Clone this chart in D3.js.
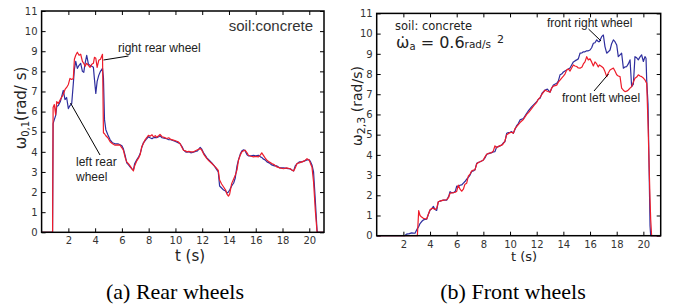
<!DOCTYPE html>
<html><head><meta charset="utf-8">
<script src="https://cdn.jsdelivr.net/npm/d3@7"></script>
<style>body{margin:0;background:#fff}svg{display:block}</style>
</head><body>
<script>
// ---- data ----
const xTicks = [2,4,6,8,10,12,14,16,18,20];
const yTicks = [0,1,2,3,4,5,6,7,8,9,10,11];

const rearTime = [0,0.82,0.86,0.95,1.05,1.13,1.25,1.4,1.62,1.75,1.87,2.0,2.12,2.25,2.37,2.45,2.55,2.67,2.8,2.92,3.05,3.15,3.25,3.37,3.5,3.62,3.75,3.87,3.95,4.05,4.15,4.27,4.4,4.55,4.62,4.7,4.8,4.95,5.12,5.3,5.49,5.7,5.86,6.0,6.11,6.25,6.36,6.5,6.61,6.75,6.86,6.95,7.11,7.25,7.36,7.48,7.6,7.73,7.85,7.98,8.1,8.25,8.35,8.5,8.6,8.75,8.85,9.0,9.15,9.35,9.5,9.65,9.85,10.0,10.2,10.35,10.5,10.6,10.75,10.85,11.0,11.15,11.35,11.5,11.65,11.85,11.95,12.1,12.2,12.35,12.5,12.72,12.9,13.05,13.2,13.3,13.45,13.6,13.75,13.85,13.96,14.05,14.2,14.35,14.47,14.6,14.71,14.85,14.97,15.1,15.2,15.35,15.45,15.65,15.83,16.0,16.2,16.35,16.45,16.55,16.7,16.84,17.0,17.2,17.4,17.58,17.8,18.08,18.3,18.58,18.7,18.83,18.95,19.08,19.25,19.45,19.65,19.83,20.0,20.1,20.2,20.32,20.45,20.58,20.62,21.1];
const rightRearSpeed = [0,0,6.2,6.35,5.85,6.5,6.4,6.6,6.85,7.1,7.2,7.35,7.65,7.6,7.65,8.6,8.8,8.95,8.8,8.85,8.5,8.4,8.25,8.4,8.3,8.2,8.35,8.4,8.7,8.65,8.2,8.55,8.6,8.85,4.95,4.9,4.8,4.7,4.5,4.4,4.33,4.35,4.33,4.2,4.08,3.7,3.5,3.4,3.3,3.15,3.05,3.3,3.55,3.7,3.85,4.25,4.4,4.6,4.7,4.82,4.78,4.85,4.75,4.8,4.72,4.8,4.87,4.75,4.72,4.66,4.7,4.62,4.58,4.55,4.5,4.4,4.2,4.08,4.05,4.0,4.02,4.0,4.0,4.05,4.1,4.16,4.1,3.9,3.8,3.66,3.55,3.42,3.3,3.2,3.08,2.6,2.4,2.25,2.1,1.9,1.8,1.9,2.42,2.65,2.83,3.1,3.58,3.85,4.0,4.05,4.08,3.95,3.83,3.78,3.75,3.77,3.75,3.85,3.95,3.85,3.7,3.58,3.5,3.42,3.35,3.25,3.2,3.16,3.2,3.16,3.1,3.05,3.2,3.42,3.45,3.5,3.55,3.66,3.58,3.4,3.25,2.5,1.1,0.02,0,0];
const leftRearSpeed = [0,0,5.4,5.6,5.8,6.25,6.3,6.5,7.05,6.6,6.7,6.15,6.3,6.4,7.4,8.1,8.5,8.15,8.3,8.4,8.0,7.95,8.4,8.8,8.35,8.3,8.25,8.2,7.6,6.9,7.5,7.8,8.0,8.15,7.7,5.6,5.1,4.85,4.6,4.45,4.4,4.4,4.35,4.3,4.15,3.8,3.45,3.35,3.25,3.15,3.1,3.4,3.6,3.75,3.9,4.2,4.45,4.55,4.65,4.75,4.7,4.65,4.7,4.72,4.7,4.75,4.8,4.7,4.68,4.65,4.6,4.6,4.55,4.52,4.45,4.4,4.25,4.1,4.0,3.98,4.0,3.95,3.98,4.02,4.05,4.22,4.15,3.95,3.85,3.7,3.6,3.45,3.3,3.15,3.0,2.3,2.2,2.1,2.05,1.95,2.0,2.1,2.3,2.45,2.7,3.3,3.6,3.9,4.05,4.1,4.05,3.85,3.8,3.8,3.82,3.8,3.83,3.75,3.72,3.65,3.6,3.5,3.45,3.35,3.3,3.3,3.2,3.2,3.18,3.15,3.1,3.05,3.3,3.4,3.5,3.5,3.55,3.6,3.6,3.5,3.35,3.0,1.6,0.1,0,0];

const frontTime = [0,2.1,2.25,2.45,2.62,2.87,3.05,3.15,3.25,3.37,3.5,3.62,3.75,3.87,4.0,4.12,4.25,4.37,4.5,4.62,4.8,5.0,5.25,5.4,5.5,5.62,5.75,5.9,6.0,6.12,6.25,6.37,6.5,6.62,6.75,6.87,7.0,7.12,7.25,7.37,7.5,7.62,7.75,7.87,8.0,8.12,8.25,8.4,8.62,8.75,8.87,9.0,9.12,9.37,9.5,9.62,9.75,9.87,10.0,10.12,10.25,10.37,10.5,10.62,10.75,11.0,11.25,11.4,11.63,11.8,12.0,12.12,12.25,12.4,12.63,12.8,13.0,13.12,13.25,13.5,13.62,13.75,13.87,14.0,14.12,14.25,14.37,14.5,14.62,14.75,14.87,15.0,15.12,15.25,15.4,15.5,15.62,15.75,15.87,16.0,16.12,16.25,16.37,16.5,16.62,16.7,16.87,17.0,17.12,17.25,17.37,17.5,17.62,17.75,17.87,18.0,18.12,18.25,18.37,18.5,18.62,18.75,18.87,19.0,19.12,19.25,19.37,19.5,19.62,19.75,19.87,20.0,20.12,20.2,20.25,20.35,20.5,20.55,20.62,21.3];
const frontLeftSpeed = [0,0,0,0,0,0,0,1.24,1.0,0.92,0.86,0.84,0.83,1.05,1.27,1.35,1.35,1.3,1.36,1.68,1.72,1.76,1.78,1.9,2.1,2.12,2.13,2.15,2.2,2.5,2.3,2.2,2.3,2.55,2.6,2.95,3.05,3.2,3.25,3.26,3.55,3.62,3.66,3.7,3.75,3.9,4.03,4.08,4.11,4.2,4.45,4.35,4.42,4.48,4.55,4.7,5.0,5.05,5.1,5.12,5.07,5.3,5.4,5.5,5.6,5.75,6.0,6.1,6.3,6.45,6.6,6.75,6.85,7.0,7.2,7.15,7.1,7.3,7.4,7.45,7.6,7.7,7.8,7.9,8.0,8.2,8.25,8.15,8.3,8.45,8.4,8.37,8.3,8.29,8.35,8.5,8.6,8.86,8.7,8.75,8.6,8.4,8.6,8.5,8.35,8.45,8.37,8.3,8.12,7.87,8.05,8.2,8.25,8.29,8.15,7.96,7.9,7.87,7.3,7.2,7.13,7.15,7.21,7.3,7.38,7.6,7.79,7.85,7.96,7.9,7.87,7.8,7.71,7.6,7.55,5.5,1.8,0.8,0,0];
const frontRightSpeed = [0,0,0.08,0.1,0.14,0.12,0.35,0.45,0.6,0.7,0.78,0.8,0.82,1.05,1.27,1.32,1.45,1.3,1.25,1.68,1.72,1.76,1.76,1.95,2.18,2.13,2.13,2.2,2.45,2.43,2.5,2.51,2.6,2.68,2.8,2.89,3.0,3.18,3.2,3.26,3.58,3.62,3.66,3.7,3.75,3.85,4.03,4.06,4.11,4.15,4.16,4.4,4.4,4.48,4.6,4.65,5.07,5.1,5.12,5.15,5.07,5.25,5.45,5.55,5.73,5.8,6.06,6.2,6.39,6.5,6.63,6.75,6.8,7.05,7.21,7.25,7.1,7.3,7.46,7.54,7.65,7.96,8.0,8.1,8.15,8.2,8.25,8.3,8.45,8.6,8.65,8.7,8.75,9.03,9.05,9.1,9.1,9.15,9.15,9.19,9.3,9.52,9.55,9.69,9.6,9.6,9.85,9.93,9.36,9.03,9.1,9.19,9.5,9.69,9.6,9.44,8.86,8.95,9.03,8.29,8.35,8.37,8.5,8.7,7.38,7.5,8.86,8.8,8.7,8.85,8.95,8.62,8.86,8.78,7.7,6.5,0.5,0,0,0];

// ---- layout ----
const W = 678, H = 305;
const RED = "#ee1c2a", BLUE = "#2e2e9e";
const svg = d3.select("body").append("svg").attr("width", W).attr("height", H);

function panel(cfg) {
  const x = d3.scaleLinear().domain([0, cfg.xmax]).range([cfg.left, cfg.right]);
  const y = d3.scaleLinear().domain([0, 11]).range([cfg.bottom, cfg.top]);
  const g = svg.append("g");

  const styleAxis = (sel, showLabels) => {
    sel.select(".domain").remove();
    sel.selectAll(".tick line").attr("stroke", "#000").attr("stroke-width", 1);
    sel.selectAll(".tick text").attr("fill", "#333").style("font-family", "DejaVu Sans")
      .style("font-size", "10px");
    if (!showLabels) sel.selectAll(".tick text").remove();
  };
  g.append("g").attr("transform", `translate(0,${cfg.bottom})`)
    .call(d3.axisBottom(x).tickValues(xTicks).tickSizeInner(-4).tickSizeOuter(0).tickPadding(5))
    .call(s => styleAxis(s, true));
  g.append("g").attr("transform", `translate(0,${cfg.top})`)
    .call(d3.axisTop(x).tickValues(xTicks).tickSizeInner(-4).tickSizeOuter(0))
    .call(s => styleAxis(s, false));
  g.append("g").attr("transform", `translate(${cfg.left},0)`)
    .call(d3.axisLeft(y).tickValues(yTicks).tickSizeInner(-4).tickSizeOuter(0).tickPadding(4))
    .call(s => styleAxis(s, true));
  g.append("g").attr("transform", `translate(${cfg.right},0)`)
    .call(d3.axisRight(y).tickValues(yTicks).tickSizeInner(-4).tickSizeOuter(0))
    .call(s => styleAxis(s, false));

  const line = d3.line().x(d => x(d[0])).y(d => y(d[1]));
  const clipId = "clip" + cfg.id;
  g.append("clipPath").attr("id", clipId).append("rect")
    .attr("x", cfg.left).attr("y", cfg.top - 2).attr("width", cfg.right - cfg.left).attr("height", cfg.bottom - cfg.top + 4);
  cfg.series.forEach(s => {
    g.append("path").attr("clip-path", `url(#${clipId})`)
      .datum(cfg.time.map((t, i) => [t, s.values[i]]))
      .attr("fill", "none").attr("stroke", s.color).attr("stroke-width", 1.2)
      .attr("stroke-linejoin", "round").attr("d", line);
  });

  g.append("rect").attr("x", cfg.left).attr("y", cfg.top)
    .attr("width", cfg.right - cfg.left).attr("height", cfg.bottom - cfg.top)
    .attr("fill", "none").attr("stroke", "#000").attr("stroke-width", 1.5);
  return g;
}

panel({id: "a", left: 41.6, right: 324, top: 11, bottom: 232.3, xmax: 21.1, time: rearTime,
  series: [{values: leftRearSpeed, color: BLUE}, {values: rightRearSpeed, color: RED}]});
panel({id: "b", left: 376.7, right: 660.7, top: 13.4, bottom: 235.7, xmax: 21.3, time: frontTime,
  series: [{values: frontRightSpeed, color: BLUE}, {values: frontLeftSpeed, color: RED}]});

// ---- texts ----
const txt = (x, y, s, size, fam, anchor, fill) => svg.append("text").attr("x", x).attr("y", y)
  .attr("text-anchor", anchor || "start").attr("fill", fill || "#222")
  .style("font-family", fam || "Liberation Sans").style("font-size", size + "px").text(s);

// y labels
const yl1 = svg.append("text").attr("transform", "translate(26,108) rotate(-90)")
  .attr("text-anchor", "middle").attr("fill", "#222").style("font-family", "DejaVu Sans").style("font-size", "15px");
yl1.append("tspan").text("ω");
yl1.append("tspan").attr("dy", 3).style("font-size", "10px").text("0,1");
yl1.append("tspan").attr("dy", -3).text("(rad/ s)");

const yl2 = svg.append("text").attr("transform", "translate(362,106) rotate(-90)")
  .attr("text-anchor", "middle").attr("fill", "#222").style("font-family", "DejaVu Sans").style("font-size", "14px");
yl2.append("tspan").text("ω");
yl2.append("tspan").attr("dy", 3).style("font-size", "11px").text("2,3");
yl2.append("tspan").attr("dy", -3).text(" (rad/s)");

// x labels
txt(190, 261, "t (s)", 15, "DejaVu Sans", "middle");
txt(524, 261, "t (s)", 13, "DejaVu Sans", "middle");

// captions
txt(175, 299, "(a) Rear wheels", 22, "Liberation Serif", "middle", "#000");
txt(513, 299, "(b) Front wheels", 22, "Liberation Serif", "middle", "#000");

// annotations left
txt(313, 31, "soil:concrete", 15, "Liberation Sans", "end", "#333");
txt(118, 52, "right rear wheel", 12, "Liberation Sans", "start");
txt(76, 166, "left rear", 12, "Liberation Sans", "start");
txt(76, 181, "wheel", 12, "Liberation Sans", "start");
const pointer = (x1, y1, x2, y2) => svg.append("line").attr("x1", x1).attr("y1", y1)
  .attr("x2", x2).attr("y2", y2).attr("stroke", "#000").attr("stroke-width", 1);
pointer(103.5, 60, 128.5, 56);
pointer(70.5, 103, 100, 155);

// annotations right
txt(547, 27, "front right wheel", 12, "Liberation Sans", "start");
txt(562, 102, "front left wheel", 12, "Liberation Sans", "start");
pointer(588.5, 29, 601, 41);
pointer(594, 91, 608.5, 74);

txt(395, 30, "soil: concrete", 11.5, "DejaVu Sans", "start", "#222");
const f = svg.append("text").attr("x", 396).attr("y", 48).attr("fill", "#222")
  .style("font-family", "DejaVu Sans").style("font-size", "16px");
f.append("tspan").text("ω\u0307");
f.append("tspan").attr("dy", 2).style("font-size", "10px").text("a");
f.append("tspan").attr("dy", -2).text(" = 0.6");
f.append("tspan").style("font-size", "10.5px").text("rad/s");
txt(497, 43, "2", 11, "DejaVu Sans", "start", "#222");
</script>
</body></html>
